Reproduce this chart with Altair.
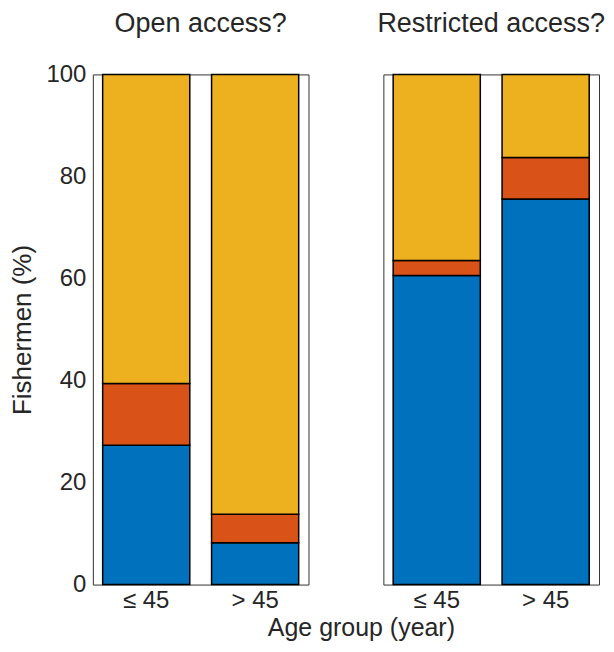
import altair as alt
import pandas as pd

age_groups = ["≤ 45", "> 45"]
responses = ["Yes", "Not sure", "No"]
colors = ["#0072BD", "#D95319", "#EDB120"]

# stacked segment heights (%) per age group: Yes, Not sure, No
open_yes = [27.3, 8.2]
open_unsure = [12.1, 5.6]
open_no = [60.6, 86.2]

restr_yes = [60.6, 75.6]
restr_unsure = [2.9, 8.1]
restr_no = [36.5, 16.3]

FONT = "Liberation Sans"
TXT = "#262626"


def make_df(yes, unsure, no):
    rows = []
    for i, g in enumerate(age_groups):
        for k, (r, vals) in enumerate(zip(responses, [yes, unsure, no])):
            rows.append({"age": g, "response": r, "value": vals[i], "order": k})
    return pd.DataFrame(rows)


def panel(df, title, show_y, title_offset):
    yaxis = alt.Axis(
        values=[0, 20, 40, 60, 80, 100], grid=False, domain=False, ticks=False,
        labelFontSize=24, labelFont=FONT, labelColor=TXT, labelPadding=7,
        title="Fishermen (%)", titleFontSize=26, titleFont=FONT, titleColor=TXT,
        titleFontWeight="normal", titlePadding=10,
    ) if show_y else None
    return alt.Chart(df).mark_bar(stroke="black", strokeWidth=1.5).encode(
        x=alt.X("age:N", sort=age_groups,
                scale=alt.Scale(paddingInner=0.2, paddingOuter=0.09),
                axis=alt.Axis(title=None, labelAngle=0, domain=False, ticks=False,
                              labelFontSize=24, labelFont=FONT, labelColor=TXT,
                              labelPadding=4)),
        y=alt.Y("value:Q", stack="zero",
                scale=alt.Scale(domain=[0, 100], nice=False), axis=yaxis),
        color=alt.Color("response:N", sort=responses,
                        scale=alt.Scale(domain=responses, range=colors), legend=None),
        order=alt.Order("order:Q", sort="ascending"),
    ).properties(
        width=216, height=511,
        title=alt.TitleParams(title, fontSize=27, font=FONT, color=TXT,
                              fontWeight="normal", offset=title_offset),
    )


left = panel(make_df(open_yes, open_unsure, open_no), "Open access?", True, 24)
right = panel(make_df(restr_yes, restr_unsure, restr_no), "Restricted access?", False, 36)

chart = alt.hconcat(left, right, spacing=67).properties(
    padding={"left": 1, "top": 0, "right": 0, "bottom": 0},
    title=alt.TitleParams("Age group (year)", orient="bottom", fontSize=25,
                          font=FONT, color=TXT, fontWeight="normal",
                          anchor="middle", dx=54, offset=3),
).configure_view(stroke="#333333", strokeWidth=1)

chart.save("out.html", embed_options={"renderer": "svg", "actions": False})
